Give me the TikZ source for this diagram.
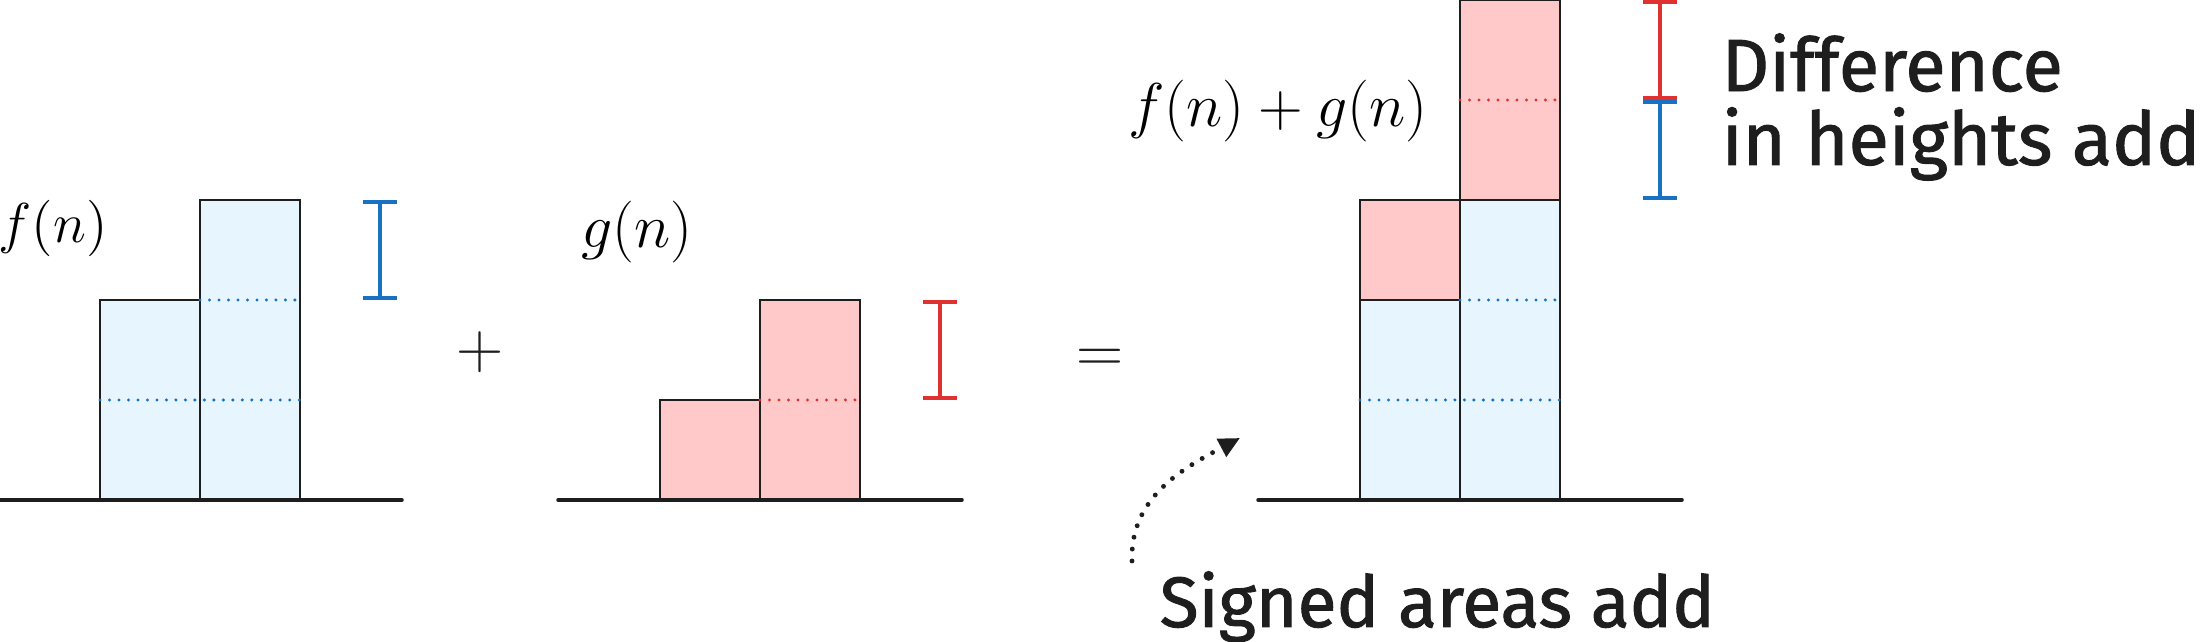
\RequirePackage{fix-cm}
\documentclass[tikz,border=0pt]{standalone}
\usepackage{fontspec}
\newfontfamily\handfont{Fira Sans}[FakeBold=1.3]
\usepackage{xcolor}
\usetikzlibrary{arrows.meta,positioning}

\definecolor{fillblue}{HTML}{E7F5FF}
\definecolor{fillred}{HTML}{FFC9C9}
\definecolor{lineblue}{HTML}{1971C2}
\definecolor{linered}{HTML}{E03131}
\definecolor{ink}{HTML}{1E1E1E}

\begin{document}
\begin{tikzpicture}[
    axis/.style={draw=ink, line width=1pt, line cap=round},
    fblock/.style={draw=ink, line width=0.6pt, fill=fillblue},
    gblock/.style={draw=ink, line width=0.6pt, fill=fillred},
    fdots/.style={draw=lineblue, line width=0.95pt, line cap=round, dash pattern=on 0pt off 2.7pt},
    gdots/.style={draw=linered, line width=0.95pt, line cap=round, dash pattern=on 0pt off 2.7pt},
    fgap/.style={draw=lineblue, line width=1.1pt, arrows={Bar[width=3.4mm]-Bar[width=3.4mm]}},
    ggap/.style={draw=linered, line width=1.1pt, arrows={Bar[width=3.4mm]-Bar[width=3.4mm]}},
    mathlabel/.style={inner sep=0pt, text=black, font=\fontsize{17.6}{20}\selectfont},
    opsign/.style={inner sep=0pt, text=ink, font=\fontsize{18.6}{20}\selectfont},
    handnote/.style={inner sep=0pt, text=ink, align=left, font=\handfont\fontsize{21}{21}\selectfont},
    pointer/.style={draw=ink, line width=1.4pt, line cap=round, dash pattern=on 0pt off 3.4pt, -{Triangle[length=6pt, width=5.5pt]}}
]
\useasboundingbox (0,-1.42) rectangle (22,5);

% f(n)
\draw[fblock] (1,0) rectangle (2,2);
\draw[fblock] (2,0) rectangle (3,3);
\draw[fdots] (1,1) -- (3,1);
\draw[fdots] (2,2) -- (3,2);
\draw[fgap] (3.8,2) -- (3.8,3);
\draw[axis] (0,0) -- (4.02,0);
\node[mathlabel, font=\fontsize{16}{18}\selectfont] (flabel) at (0.53,2.72) {$f(n)$};

\node[opsign] (plus) at (4.80,1.48) {$+$};

% g(n)
\draw[gblock] (6.6,0) rectangle (7.6,1);
\draw[gblock] (7.6,0) rectangle (8.6,2);
\draw[gdots] (7.6,1) -- (8.6,1);
\draw[ggap] (9.4,1) -- (9.4,2);
\draw[axis] (5.58,0) -- (9.62,0);
\node[mathlabel] (glabel) at (6.37,2.68) {$g(n)$};

\node[opsign] (equals) at (11.0,1.39) {$=$};

% f(n) + g(n)
\draw[fblock] (13.6,0) rectangle (14.6,2);
\draw[gblock] (13.6,2) rectangle (14.6,3);
\draw[fblock] (14.6,0) rectangle (15.6,3);
\draw[gblock] (14.6,3) rectangle (15.6,5);
\draw[fdots] (13.6,1) -- (15.6,1);
\draw[fdots] (14.6,2) -- (15.6,2);
\draw[gdots] (14.6,4) -- (15.6,4);
\draw[fgap] (16.6,3) -- (16.6,4);
\draw[ggap] (16.6,4) -- (16.6,5);
\draw[axis] (12.58,0) -- (16.82,0);
\node[mathlabel] (sumlabel) at (12.78,3.89) {$f(n)+g(n)$};

% Notes
\node[handnote, anchor=west] (heightnote) at (17.21,3.93) {Difference\\in heights add};
\node[handnote, anchor=base west, font=\handfont\fontsize{20.3}{21}\selectfont] (areanote) at (11.59,-1.27) {Signed areas add};
\coordinate (areatail) at (11.32,-0.61);
\coordinate (areatip) at (12.40,0.62);
\draw[pointer] (areatail) to[out=92, in=208] (areatip);

\end{tikzpicture}
\end{document}
